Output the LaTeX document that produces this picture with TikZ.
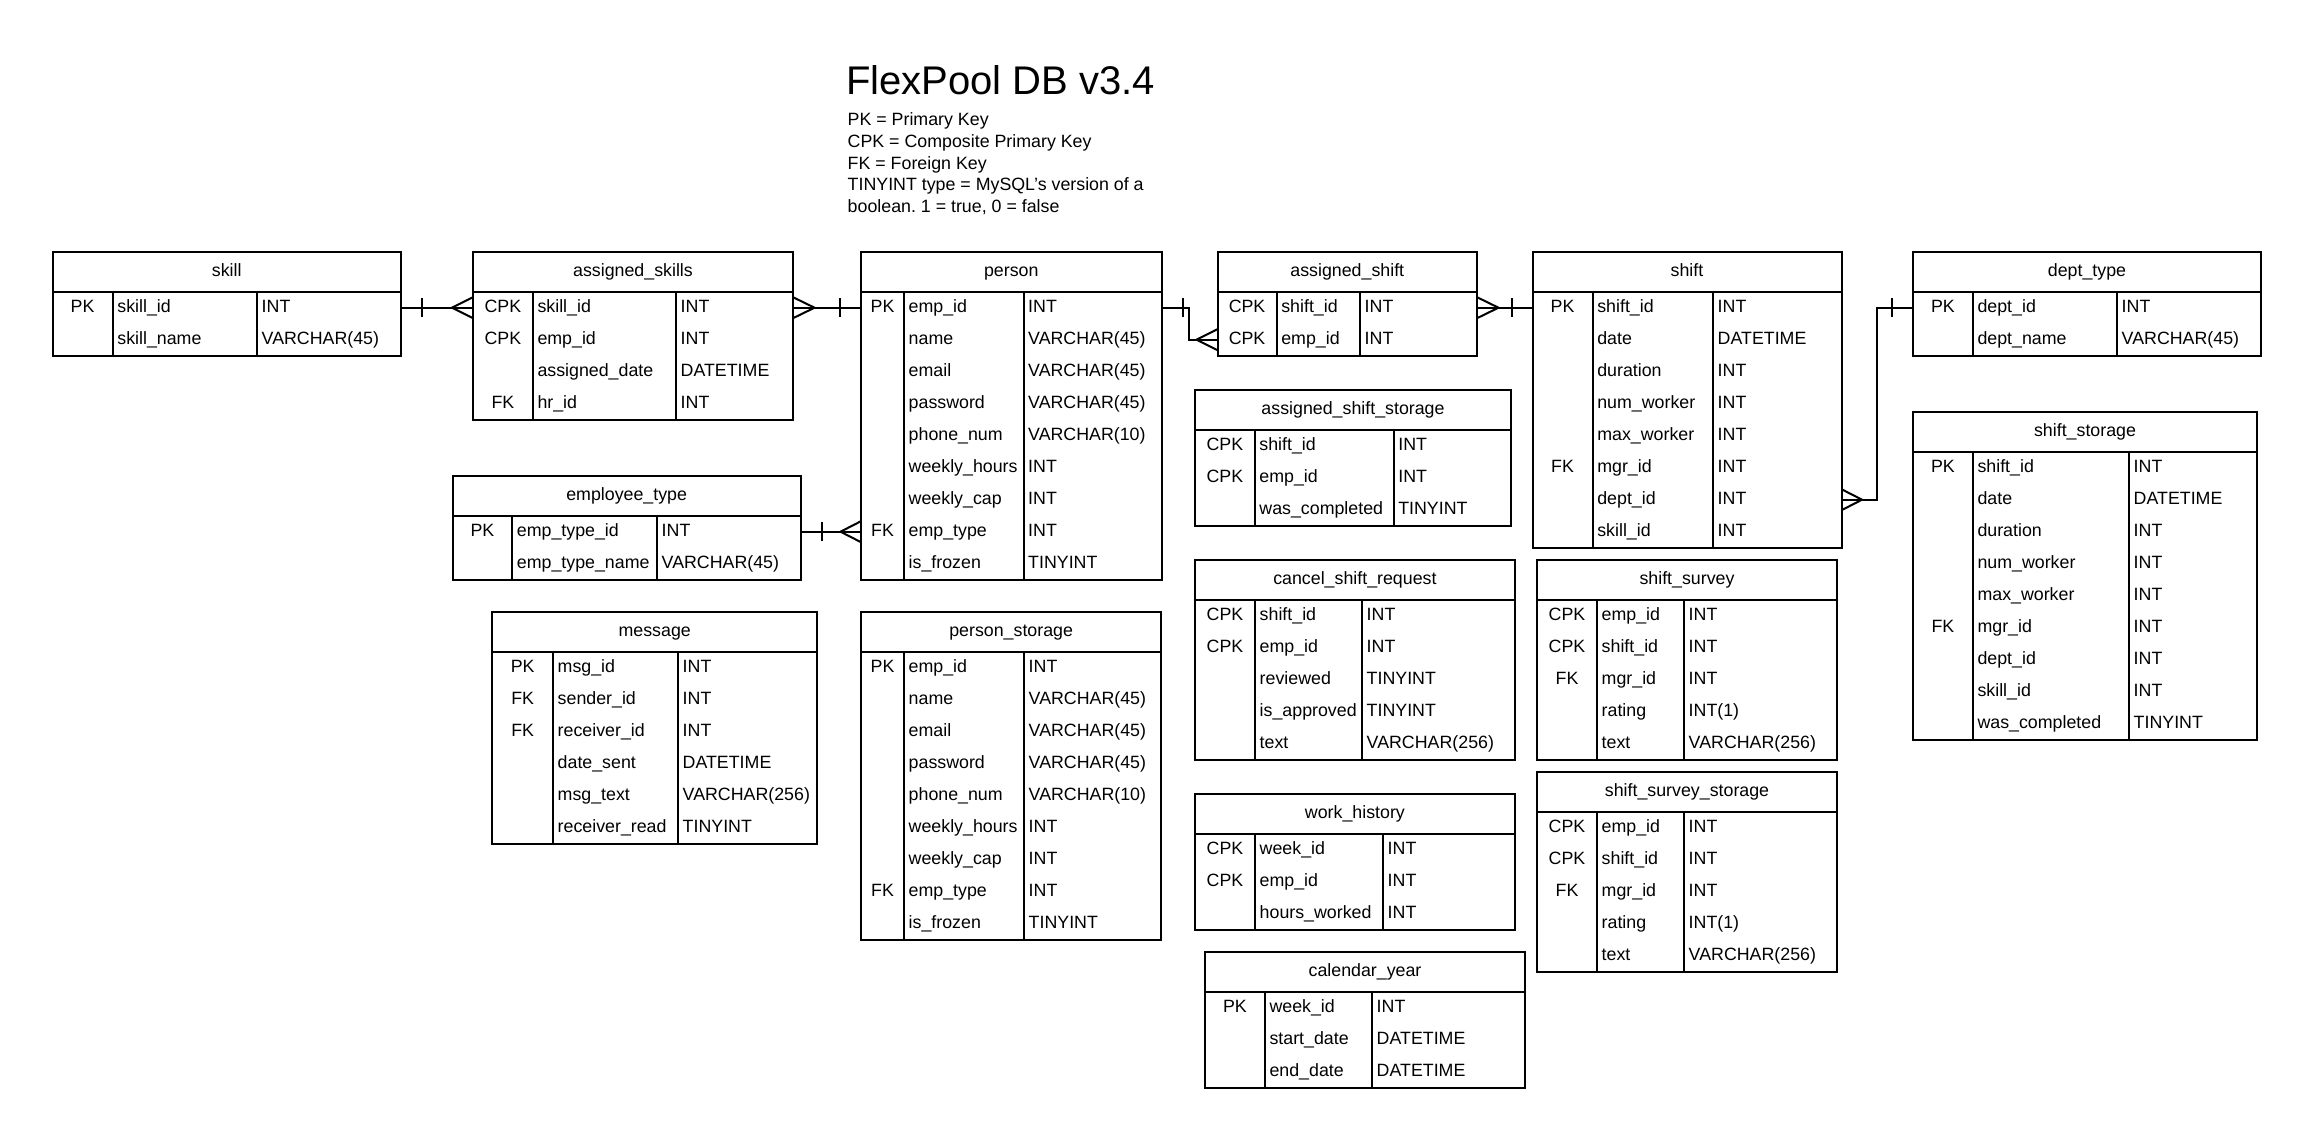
\documentclass[tikz,border=0pt]{standalone}
\usepackage{fontspec}
\setmainfont{Liberation Sans}[Ligatures=ResetAll]
\usetikzlibrary{calc}
\frenchspacing
\tikzset{
  tblbox/.style={draw, line width=2pt, inner sep=0pt, outer sep=0pt, anchor=north west},
  txt/.style={inner sep=0pt, font=\fontsize{17.8}{21.4}\selectfont},
  ln/.style={line width=2pt},
  conn/.style={line width=2pt},
}
% #1 name, #2 left, #3 top, #4 right, #5 col1, #6 col2, #7 rows, #8 title, #9 row list
\newcommand\ertable[9]{%
  \pgfmathsetmacro\ertH{#3+40}%
  \pgfmathsetmacro\ertB{#3+40+32*#7}%
  \node[tblbox, minimum width={(#4-#2)*1pt}, minimum height={(\ertB-#3)*1pt}] (#1) at (#2,#3) {};
  \draw[ln] (#2,\ertH) -- (#4,\ertH) (#5,\ertH) -- (#5,\ertB) (#6,\ertH) -- (#6,\ertB);
  \node[txt, anchor=base] (#1-title) at ({(#2+#4)/2},{#3+24.5}) {#8};
  \foreach \k/\n/\t [count=\i] in {#9} {
    \pgfmathsetmacro\ertY{\ertH+32*\i-16+4.5}
    \node[txt, anchor=base] (#1-k\i) at ({(#2+#5)/2},\ertY) {\k};
    \node[txt, anchor=base west] (#1-n\i) at ({#5+4.5},\ertY) {\n};
    \node[txt, anchor=base west] (#1-t\i) at ({#6+4.5},\ertY) {\t};
    \coordinate (#1-w\i) at (#2,{\ertY-4.5});
    \coordinate (#1-e\i) at (#4,{\ertY-4.5});
  }
}
\newcommand\barmark[2]{\draw[conn] ([xshift=#2pt,yshift=-9.5pt]#1) -- ([xshift=#2pt,yshift=9.5pt]#1);}
\newcommand\crowmark[2]{\draw[conn] ([yshift=10.5pt]#1) -- ([xshift=#2pt]#1) -- ([yshift=-10.5pt]#1);}
\begin{document}
\begin{tikzpicture}[x=1pt,y=-1pt]
\fill[white] (0,0) rectangle (2320,1135);
\useasboundingbox (0,0) rectangle (2320,1135);

% title and legend
\node[txt, font=\fontsize{40}{48}\selectfont, anchor=base west] (title) at (846,94.8) {FlexPool DB v3.4};
\node[txt, anchor=base west] (leg1) at (847.5,125.8) {PK = Primary Key};
\node[txt, anchor=base west] (leg2) at (847.5,147.4) {CPK = Composite Primary Key};
\node[txt, anchor=base west] (leg3) at (847.5,169.0) {FK = Foreign Key};
\node[txt, anchor=base west] (leg4) at (847.5,190.6) {TINYINT type = MySQL's version of a};
\node[txt, anchor=base west] (leg5) at (847.5,212.2) {boolean. 1 = true, 0 = false};

\ertable{skill}{52.5}{251.7}{401}{112.7}{257}{2}{skill}
  {PK/skill\_id/INT, /skill\_name/VARCHAR(45)}
\ertable{assigned_skills}{473}{251.7}{793}{532.8}{676}{4}{assigned\_skills}
  {CPK/skill\_id/INT, CPK/emp\_id/INT, /assigned\_date/DATETIME, FK/hr\_id/INT}
\ertable{employee_type}{452.6}{475.7}{800.7}{512.2}{657}{2}{employee\_type}
  {PK/emp\_type\_id/INT, /emp\_type\_name/VARCHAR(45)}
\ertable{person}{861}{251.7}{1161.5}{904}{1023.5}{9}{person}
  {PK/emp\_id/INT, /name/VARCHAR(45), /email/VARCHAR(45), /password/VARCHAR(45), /phone\_num/VARCHAR(10), /weekly\_hours/INT, /weekly\_cap/INT, FK/emp\_type/INT, /is\_frozen/TINYINT}
\ertable{message}{492.4}{611.7}{817}{553}{678}{6}{message}
  {PK/msg\_id/INT, FK/sender\_id/INT, FK/receiver\_id/INT, /date\_sent/DATETIME, /msg\_text/VARCHAR(256), /receiver\_read/TINYINT}
\ertable{person_storage}{861}{611.7}{1161.3}{904}{1024}{9}{person\_storage}
  {PK/emp\_id/INT, /name/VARCHAR(45), /email/VARCHAR(45), /password/VARCHAR(45), /phone\_num/VARCHAR(10), /weekly\_hours/INT, /weekly\_cap/INT, FK/emp\_type/INT, /is\_frozen/TINYINT}
\ertable{assigned_shift}{1217.5}{251.7}{1477}{1276.6}{1360}{2}{assigned\_shift}
  {CPK/shift\_id/INT, CPK/emp\_id/INT}
\ertable{assigned_shift_storage}{1195}{389.6}{1511}{1254.7}{1393.6}{3}{assigned\_shift\_storage}
  {CPK/shift\_id/INT, CPK/emp\_id/INT, /was\_completed/TINYINT}
\ertable{cancel_shift_request}{1195}{560}{1514.8}{1255}{1362}{5}{cancel\_shift\_request}
  {CPK/shift\_id/INT, CPK/emp\_id/INT, /reviewed/TINYINT, /is\_approved/TINYINT, /text/VARCHAR(256)}
\ertable{work_history}{1195}{793.7}{1514.8}{1255}{1383}{3}{work\_history}
  {CPK/week\_id/INT, CPK/emp\_id/INT, /hours\_worked/INT}
\ertable{calendar_year}{1205}{951.8}{1525}{1264.8}{1372}{3}{calendar\_year}
  {PK/week\_id/INT, /start\_date/DATETIME, /end\_date/DATETIME}
\ertable{shift}{1532.5}{251.7}{1841.5}{1592.6}{1713}{8}{shift}
  {PK/shift\_id/INT, /date/DATETIME, /duration/INT, /num\_worker/INT, /max\_worker/INT, FK/mgr\_id/INT, /dept\_id/INT, /skill\_id/INT}
\ertable{shift_survey}{1537}{560}{1837}{1597}{1684}{5}{shift\_survey}
  {CPK/emp\_id/INT, CPK/shift\_id/INT, FK/mgr\_id/INT, /rating/INT(1), /text/VARCHAR(256)}
\ertable{shift_survey_storage}{1537}{771.5}{1837}{1597}{1684}{5}{shift\_survey\_storage}
  {CPK/emp\_id/INT, CPK/shift\_id/INT, FK/mgr\_id/INT, /rating/INT(1), /text/VARCHAR(256)}
\ertable{dept_type}{1913}{251.7}{2261}{1972.8}{2117}{2}{dept\_type}
  {PK/dept\_id/INT, /dept\_name/VARCHAR(45)}
\ertable{shift_storage}{1913}{411.7}{2257}{1972.8}{2129}{9}{shift\_storage}
  {PK/shift\_id/INT, /date/DATETIME, /duration/INT, /num\_worker/INT, /max\_worker/INT, FK/mgr\_id/INT, /dept\_id/INT, /skill\_id/INT, /was\_completed/TINYINT}

% connectors
\draw[conn] (skill-e1) -- (assigned_skills-w1);
\barmark{skill-e1}{21}
\crowmark{assigned_skills-w1}{-21}

\draw[conn] (assigned_skills-e1) -- (person-w1);
\crowmark{assigned_skills-e1}{21.5}
\barmark{person-w1}{-21}

\draw[conn] (employee_type-e1) -- (person-w8);
\barmark{employee_type-e1}{21.5}
\crowmark{person-w8}{-20.5}

\draw[conn] (person-e1) -- ++(27.5,0) coordinate (pa) |- (assigned_shift-w2);
\barmark{person-e1}{21}
\crowmark{assigned_shift-w2}{-21}

\draw[conn] (assigned_shift-e1) -- (shift-w1);
\crowmark{assigned_shift-e1}{21.5}
\barmark{shift-w1}{-21}

\draw[conn] (shift-e7) -- ++(35.2,0) coordinate (sd) |- (dept_type-w1);
\crowmark{shift-e7}{20.5}
\barmark{dept_type-w1}{-21}
\end{tikzpicture}
\end{document}
